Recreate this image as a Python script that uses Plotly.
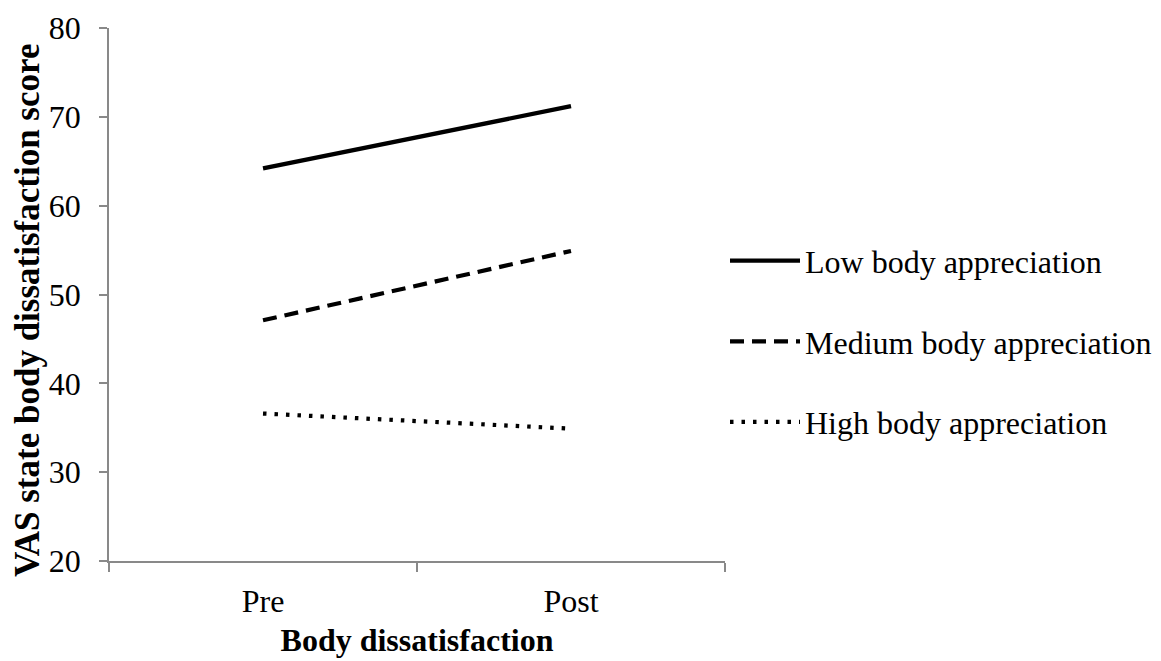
import plotly.graph_objects as go

categories = ["Pre", "Post"]
low_values = [64.2, 71.2]
medium_values = [47.1, 54.9]
high_values = [36.6, 34.9]
series_names = ["Low body appreciation", "Medium body appreciation", "High body appreciation"]
y_ticks = [20, 30, 40, 50, 60, 70, 80]

FONT = "Liberation Serif, Times New Roman, serif"
AXIS_COLOR = "#898989"

fig = go.Figure()
styles = [dict(dash="solid"), dict(dash="14px,8px"), dict(dash="3.5px,8px")]
for name, vals, st, grp in zip(series_names, [low_values, medium_values, high_values], styles, ["a", "b", "c"]):
    fig.add_trace(go.Scatter(
        x=categories, y=vals, mode="lines", name=name, legendgroup=grp,
        line=dict(color="black", width=4.2, dash=st["dash"]),
    ))

fig.update_layout(
    width=1153, height=653,
    margin=dict(l=101, r=436, t=20, b=100, autoexpand=False),
    paper_bgcolor="white", plot_bgcolor="white",
    font=dict(family=FONT, size=32, color="black"),
    showlegend=True,
    legend=dict(x=1.0, xanchor="left", y=0.412, yanchor="middle",
                font=dict(family=FONT, size=32, color="black"),
                tracegroupgap=36, itemwidth=70, traceorder="grouped",
                bgcolor="rgba(0,0,0,0)"),
    xaxis=dict(
        type="category", range=[-0.5, 1.5], tickson="boundaries",
        showline=True, linecolor=AXIS_COLOR, linewidth=1.5,
        ticks="outside", ticklen=9, tickcolor=AXIS_COLOR, tickwidth=1.5,
        showgrid=False, zeroline=False, automargin=False,
        tickfont=dict(family=FONT, size=32, color="black"),
        ticklabelstandoff=11, ticklabeloverflow="allow",
        title=dict(text="<b>Body dissatisfaction</b>", font=dict(family=FONT, size=32, color="black"), standoff=10),
    ),
    yaxis=dict(
        range=[20, 80], tickvals=y_ticks,
        showline=True, linecolor=AXIS_COLOR, linewidth=1.5,
        ticks="outside", ticklen=8, tickcolor=AXIS_COLOR, tickwidth=1.5,
        showgrid=False, zeroline=False, automargin=False,
        tickfont=dict(family=FONT, size=32, color="black"),
        ticklabelstandoff=12, ticklabeloverflow="allow",
    ),
    annotations=[dict(
        text="<b>VAS state body dissatisfaction score</b>",
        xref="paper", yref="paper", x=(19 - 101) / 616, y=0.469,
        xanchor="center", yanchor="middle", textangle=-90, showarrow=False,
        font=dict(family=FONT, size=35, color="black"),
    )],
)

fig.write_html("out.html")
